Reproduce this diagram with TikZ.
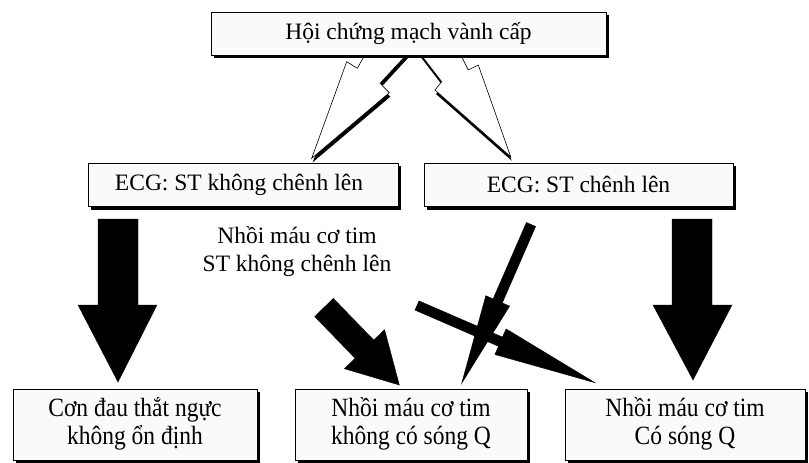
\documentclass[tikz,border=0pt]{standalone}
\usepackage{fontspec}
\setmainfont{Liberation Serif}
\usetikzlibrary{shadows}
\definecolor{boxfill}{RGB}{250,250,250}
\newcommand{\vstretchtext}[1]{\scalebox{1}[1.12]{\fontsize{23.5}{25}\selectfont\begin{tabular}{@{}c@{}}#1\end{tabular}}}
\begin{document}
\begin{tikzpicture}[x=1pt,y=-1pt,
  txt/.style={font=\fontsize{23.5}{28}\selectfont, align=center},
  box/.style={txt, draw=black, line width=0.8pt, fill=boxfill, rectangle, inner sep=0pt,
    drop shadow={shadow xshift=3pt, shadow yshift=-3pt, fill=black, opacity=1}},
  hollow/.style={draw=black, line width=0.6pt, fill=white, line join=miter},
  hshadow/.style={fill=black, shift={(1,4)}},
  blockarrow/.style={fill=black, draw=black, line width=0.4pt, line join=miter}
]
\useasboundingbox (0,0) rectangle (809,463);

% hollow lightning arrows (shadow, then body)
\fill[hshadow] (367.6,50) -- (357.3,68.3) -- (346.7,61.7) -- (311.7,158.3) -- (389.3,92.7) -- (380,83.3) -- (410.8,50) -- cycle;
\fill[hshadow] (417.3,50) -- (441.7,81.7) -- (435,90) -- (510.7,156.7) -- (478.3,65) -- (468.3,70) -- (458.3,50) -- cycle;
\draw[hollow] (367.6,50) -- (357.3,68.3) -- (346.7,61.7) -- (311.7,158.3) -- (389.3,92.7) -- (380,83.3) -- (410.8,50) -- cycle;
\draw[hollow] (417.3,50) -- (441.7,81.7) -- (435,90) -- (510.7,156.7) -- (478.3,65) -- (468.3,70) -- (458.3,50) -- cycle;

% boxes
\node[box, minimum width=395, minimum height=43] (top) at (408.5,33.5) {Hội chứng mạch vành cấp};
\node[box, minimum width=310, minimum height=43.5] (ecgn) at (243,184.8) {\hspace{-8pt}ECG: ST không chênh lên};
\node[box, minimum width=309, minimum height=43.5] (ecgs) at (578.5,184.8) {ECG: ST chênh lên};

% label
\node[txt] (lbl) at (297,252) {Nhồi máu cơ tim\\ST không chênh lên};

% black block arrows
\draw[blockarrow] (98,219) -- (138,219) -- (138,305) -- (157,305) -- (118,382) -- (78,305) -- (98,305) -- cycle;
\draw[blockarrow] (672,219) -- (712,219) -- (712,305) -- (732,305) -- (693,380) -- (653,305) -- (672,305) -- cycle;
\draw[blockarrow] (333.3,298.4) -- (373.8,340.1) -- (384.6,329.7) -- (399.3,385) -- (344.4,368.7) -- (355.2,358.3) -- (314.7,316.6) -- cycle;
\draw[blockarrow] (535.6,226.5) -- (502.3,302.9) -- (509.6,306.1) -- (461.7,383.3) -- (485.8,295.7) -- (493.1,298.9) -- (526.4,222.5) -- cycle;
\draw[blockarrow] (419,300.9) -- (502.5,337.1) -- (506.1,328.9) -- (595,382.7) -- (494.9,354.5) -- (498.5,346.3) -- (415,310.1) -- cycle;

% bottom boxes
\node[box, minimum width=244, minimum height=71] (unst) at (135,424.5) {\vstretchtext{Cơn đau thắt ngực\\không ổn định}};
\node[box, minimum width=232, minimum height=71] (nq) at (411,424.5) {\vstretchtext{Nhồi máu cơ tim\\không có sóng Q}};
\node[box, minimum width=240, minimum height=71] (q) at (685,424.5) {\vstretchtext{Nhồi máu cơ tim\\Có sóng Q}};
\end{tikzpicture}
\end{document}
